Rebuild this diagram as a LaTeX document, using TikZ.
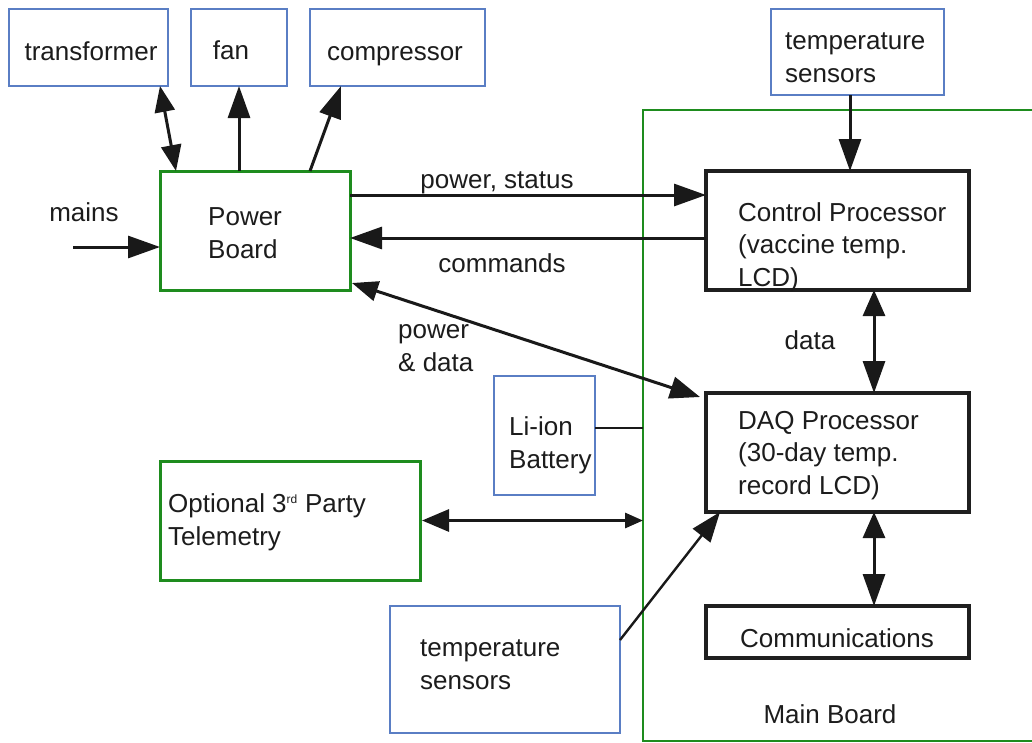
\documentclass[tikz,border=0pt]{standalone}
\usepackage{fontspec}
\setmainfont{Liberation Sans}
\usetikzlibrary{arrows.meta}
\definecolor{boxblue}{HTML}{5A7EC4}
\definecolor{boardgreen}{HTML}{1E8C1E}
\definecolor{ink}{HTML}{1C1C1C}
\begin{document}
\begin{tikzpicture}[x=1pt,y=-1pt,
  font=\fontsize{26}{32.5}\selectfont,
  box/.style={inner sep=0pt, outer sep=0pt},
  bluebox/.style={box, draw=boxblue, line width=1.5pt},
  greenbox/.style={box, draw=boardgreen, line width=3pt},
  blackbox/.style={box, draw=black!88, line width=3.2pt},
  txt/.style={inner sep=0pt, align=left, text=ink},
  conn/.style={line width=3pt, draw=black!90},
  tip/.tip={Triangle[length=32pt,width=22pt]},
  arr/.style={conn, -tip},
  darr/.style={conn, tip-tip}]
\useasboundingbox (0,0) rectangle (1032,742);
\fill[white] (0,0) rectangle (1032,742);

% main board outline
\node[box, draw=boardgreen, line width=2.2pt, anchor=north west,
      minimum width=420, minimum height=631] (mb) at (643,110) {};
\node[txt, anchor=base] (mbT) at (830,723) {Main Board};

% peripheral boxes (multi-line texts are placed by their last baseline)
\node[bluebox, minimum width=159, minimum height=77] (tr) at (88.5,47.5) {};
\node[txt, anchor=base] (trT) at (91,60) {transformer};
\node[bluebox, minimum width=96, minimum height=77] (fan) at (239,47.5) {};
\node[txt, anchor=base] (fanT) at (231,59) {fan};
\node[bluebox, minimum width=175, minimum height=77] (cp) at (397.5,47.5) {};
\node[txt, anchor=base] (cpT) at (395,60) {compressor};
\node[bluebox, minimum width=173, minimum height=86] (tt) at (857.5,52) {};
\node[txt, anchor=base west] (ttT) at (785,82) {temperature\\sensors};

% power board
\node[greenbox, minimum width=190, minimum height=119] (pb) at (255,230.5) {};
\node[txt, anchor=base west] (pbT) at (208,258) {Power\\Board};
\coordinate (mainsIn) at (73,247);
\node[txt, anchor=base] (mainsT) at (84,221) {mains};

% processors on the main board
\node[blackbox, minimum width=263, minimum height=119] (ctrl) at (837.5,230.5) {};
\node[txt, anchor=base west] (ctrlT) at (738,286) {Control Processor\\(vaccine temp.\\LCD)};
\node[blackbox, minimum width=263, minimum height=119] (daq) at (837.5,452.5) {};
\node[txt, anchor=base west] (daqT) at (738,494) {DAQ Processor\\(30-day temp.\\record LCD)};
\node[blackbox, minimum width=263, minimum height=52] (comm) at (837.5,632) {};
\node[txt, anchor=base] (commT) at (837,647) {Communications};

% battery, telemetry, lower sensors
\node[bluebox, minimum width=101, minimum height=119] (bat) at (544.5,435.5) {};
\node[txt, anchor=base west] (batT) at (509,468) {Li-ion\\Battery};
\node[greenbox, minimum width=260, minimum height=119] (tel) at (290,520.5) {};
\node[txt, anchor=base west] (telT) at (168,545) {Optional 3\textsuperscript{\fontsize{12}{12}\selectfont rd} Party\\Telemetry};
\node[bluebox, minimum width=230, minimum height=127] (tb) at (505,669.5) {};
\node[txt, anchor=base west] (tbT) at (420,689) {temperature\\sensors};

% connectors
\draw[arr] (mainsIn) -- (mainsIn -| pb.west);
\draw[conn, {Triangle[length=26pt,width=20pt]}-{Triangle[length=26pt,width=20pt]}]
  ([xshift=-8pt]tr.south east) -- ([xshift=16pt]pb.north west);
\draw[arr] (pb.north -| fan.south) -- (fan.south);
\draw[arr] ([xshift=-40pt]pb.north east) -- ([xshift=31pt]cp.south west);

\draw[arr] ([yshift=-24pt]pb.north east) coordinate (ps) -- (ps -| ctrl.west);
\node[txt, anchor=base] (psT) at (497,188) {power, status};
\draw[arr] ([yshift=-67pt]ctrl.north west) coordinate (cm) -- (cm -| pb.east);
\node[txt, anchor=base] (cmT) at (502,272) {commands};

\draw[arr] ([xshift=-7.5pt]tt.south) coordinate (ts) -- (ts |- ctrl.north);
\draw[conn, {Triangle[length=26pt,width=22pt]}-tip]
  ([xshift=36.5pt]ctrl.south) -- ([xshift=36.5pt]daq.north);
\node[txt, anchor=base] (dataT) at (810,349) {data};
\draw[conn, {Triangle[length=26pt,width=22pt]}-tip]
  ([xshift=36.5pt]daq.south) -- ([xshift=36.5pt]comm.north);

\draw[conn, {Triangle[length=26pt,width=20pt]}-{Triangle[length=30pt,width=22pt]}]
  ([xshift=2pt,yshift=7pt]pb.south east) -- ([xshift=-6pt,yshift=-4pt]daq.north west);
\node[txt, anchor=base west] (pdT) at (398,371) {power\\\& data};

\draw[conn, line width=2.4pt] ([yshift=7.5pt]bat.east) coordinate (be) -- (be -| mb.west);
\draw[conn, {Triangle[length=27pt,width=22pt]}-{Triangle[length=18pt,width=15pt]}]
  ([xshift=2pt]tel.east) -- (tel.east -| mb.west);
\draw[conn, line width=2.4pt, -{Triangle[length=30pt,width=22pt]}]
  ([yshift=29.5pt]tb.east) -- ([xshift=14pt]daq.south west);
\end{tikzpicture}
\end{document}
